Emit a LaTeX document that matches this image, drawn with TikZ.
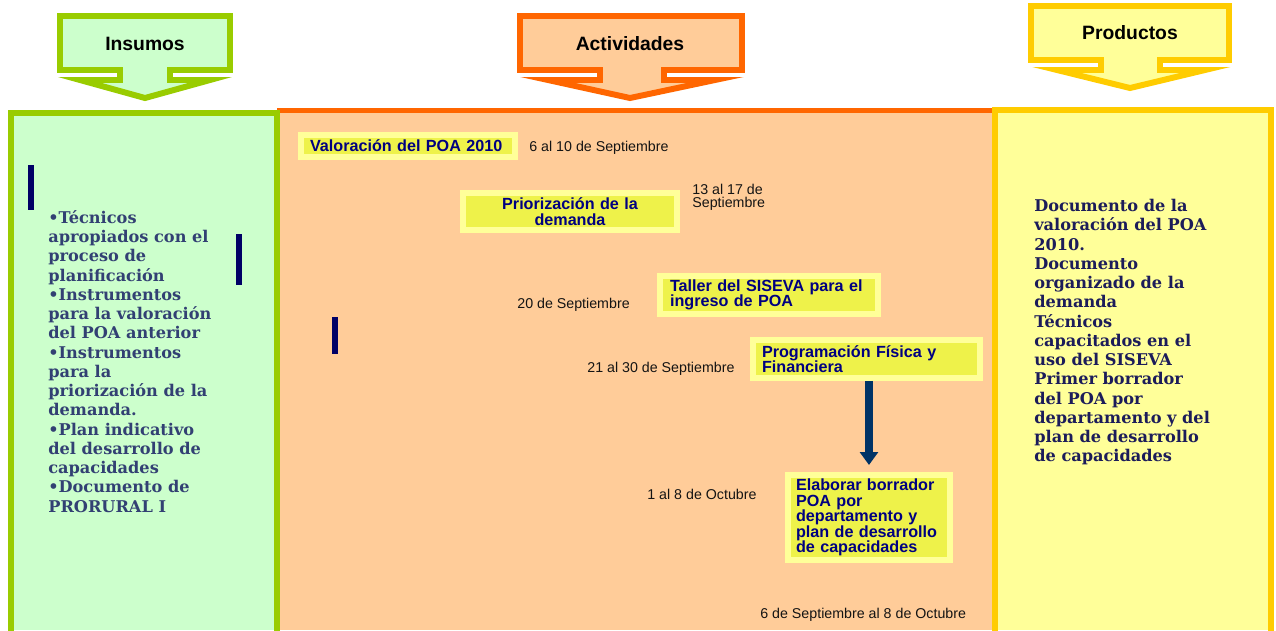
\documentclass[tikz,border=0pt]{standalone}
\usepackage{fontspec}
\setmainfont{Liberation Sans}
\newfontfamily\serifnegra{DejaVu Serif}
\usetikzlibrary{arrows.meta}
\definecolor{verdeb}{RGB}{153,204,0}
\definecolor{verdef}{RGB}{204,255,204}
\definecolor{naranjab}{RGB}{255,102,0}
\definecolor{naranjaf}{RGB}{255,204,153}
\definecolor{amarillob}{RGB}{255,204,0}
\definecolor{amarillof}{RGB}{255,255,153}
\definecolor{cajab}{RGB}{255,255,153}
\definecolor{cajaf}{RGB}{238,242,74}
\definecolor{azulc}{RGB}{0,0,128}
\definecolor{azulbarra}{RGB}{0,0,102}
\definecolor{azulf}{RGB}{0,51,102}
\definecolor{textoi}{RGB}{50,64,115}
\definecolor{textop}{RGB}{28,28,90}
\definecolor{fecha}{RGB}{20,20,20}
\tikzset{%
    pan/.style={line width=3.4pt},
    orl/.style={line width=2.8pt},
    enc/.style={line width=3.4pt, line join=miter},
    tit/.style={font=\bfseries\fontsize{11}{13}\selectfont, inner sep=0pt},
    caja/.style={rectangle, draw=cajab, fill=cajaf, line width=3.4pt, inner ysep=0pt, text=azulc, font=\bfseries\fontsize{9.2}{8.8}\selectfont},
    fec/.style={font=\fontsize{8.1}{7.4}\selectfont, text=fecha, inner sep=0pt, anchor=west, align=left},
    lista/.style={anchor=north west, inner sep=0pt, align=left, font=\serifnegra\bfseries\fontsize{9.2}{10.96}\selectfont},
    barrita/.style={fill=azulbarra},
    flecha/.style={line width=4pt, draw=azulf, -{Triangle[length=7.4pt,width=10.2pt]}, shorten >=4pt},
}
\begin{document}
\begin{tikzpicture}[x=0.02cm, y=-0.02cm]
    \useasboundingbox (0,0) rectangle (1276,630);
    \fill [naranjaf] (277,110) rectangle (995,630);
    \draw [orl, draw=naranjab] (277,110.5) -- (995,110.5);
    \fill [verdef] (11,113) rectangle (277,630);
    \draw [pan, draw=verdeb] (11,634) -- (11,113) -- (277,113) -- (277,634);
    \fill [amarillof] (995,110) rectangle (1271,630);
    \draw [pan, draw=amarillob] (995,634) -- (995,110) -- (1271,110) -- (1271,634);
    \draw [enc, draw=verdeb, fill=verdef] (60,16) -- (230,16) -- (230,70) -- (170,70) -- (170,80) -- (210,80) -- (145,98) -- (80,80) -- (120,80) -- (120,70) -- (60,70) -- cycle;
    \draw [enc, draw=naranjab, fill=naranjaf] (520,16) -- (742,16) -- (742,70) -- (664,70) -- (664,80) -- (715,80) -- (630,98) -- (548,80) -- (600,80) -- (600,70) -- (520,70) -- cycle;
    \draw [enc, draw=amarillob, fill=amarillof] (1031,6) -- (1229,6) -- (1229,60) -- (1160,60) -- (1160,70) -- (1205,70) -- (1130,88) -- (1057,70) -- (1101,70) -- (1101,60) -- (1031,60) -- cycle;
    \node [tit] (insumos) at (145,44) {Insumos};
    \node [tit] (activ) at (630,44) {Actividades};
    \node [tit] (produc) at (1130,33) {Productos};
    \fill [barrita] (28,165) rectangle (34,210);
    \fill [barrita] (236,234) rectangle (242,285);
    \fill [barrita] (332,317) rectangle (338,354);
    \node [lista, text=textoi] (entradas) at (48,210) {•Técnicos\\apropiados con el\\proceso de\\planificación\\•Instrumentos\\para la valoración\\del POA anterior\\•Instrumentos\\para la\\priorización de la\\demanda.\\•Plan indicativo\\del desarrollo de\\capacidades\\•Documento de\\PRORURAL I};
    \node [lista, text=textop] (salidas) at (1034,199) {Documento de la\\valoración del POA\\2010.\\Documento\\organizado de la\\demanda\\Técnicos\\capacitados en el\\uso del SISEVA\\Primer borrador\\del POA por\\departamento y del\\plan de desarrollo\\de capacidades};
    \node [caja, inner xsep=0.18cm, text width=3.92cm, minimum height=0.44cm, align=left] (valor) at (408,146) {Valoración del POA 2010};
    \node [caja, inner xsep=0.18cm, text width=3.92cm, minimum height=0.74cm, align=center] (prior) at (570,211.5) {Priorización de la\\demanda};
    \node [caja, inner xsep=0.2cm, text width=3.96cm, minimum height=0.76cm, align=left] (taller) at (769,295) {Taller del SISEVA para el\\ingreso de POA};
    \node [caja, inner xsep=0.18cm, text width=4.18cm, minimum height=0.76cm, align=left] (prog) at (866.5,359) {Programación Física y\\Financiera};
    \node [caja, inner xsep=0.16cm, text width=2.92cm, minimum height=1.7cm, align=left] (elab) at (869,517.5) {Elaborar borrador\\POA por\\departamento y\\plan de desarrollo\\de capacidades};
    \node [fec] (f1) at (529,148) {6 al 10 de Septiembre};
    \node [fec] (f2) at (692,197) {13 al 17 de\\Septiembre};
    \node [fec] (f3) at (517,305) {20 de Septiembre};
    \node [fec] (f4) at (587,369) {21 al 30 de Septiembre};
    \node [fec] (f5) at (647,494) {1 al 8 de Octubre};
    \node [fec] (f6) at (760,615) {6 de Septiembre al 8 de Octubre};
    \draw [flecha] (prog.south -| elab.north) -- (elab.north);
\end{tikzpicture}
\end{document}
